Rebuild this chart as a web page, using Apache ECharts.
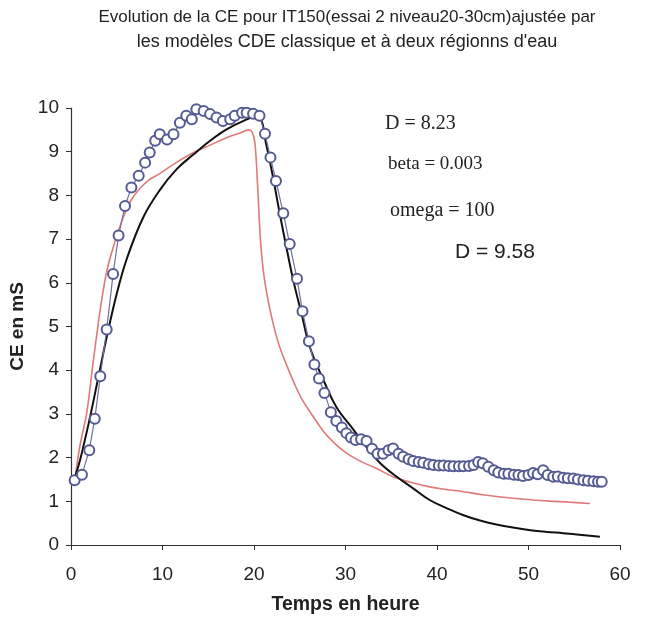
<!DOCTYPE html>
<html>
<head>
<meta charset="utf-8">
<script src="https://cdn.jsdelivr.net/npm/echarts@6/dist/echarts.min.js"></script>
<style>html,body{margin:0;padding:0;background:#fff}#c{width:647px;height:618px}</style>
</head>
<body>
<div id="c"></div>
<script>
// Observed data (markers)
var tObs = [0.4,1.2,2.0,2.6,3.2,3.9,4.6,5.2,5.9,6.6,7.4,8.1,8.6,9.2,9.7,10.5,11.2,11.9,12.6,13.2,13.7,14.5,15.2,15.9,16.6,17.4,17.9,18.7,19.2,19.9,20.6,21.2,21.8,22.4,23.2,23.9,24.7,25.3,26.0,26.6,27.1,27.7,28.4,29.0,29.6,30.1,30.6,31.1,31.7,32.3,32.9,33.5,34.1,34.7,35.2,35.8,36.3,36.9,37.4,38.0,38.5,39.1,39.6,40.2,40.7,41.3,41.8,42.4,42.9,43.5,44.0,44.5,45.0,45.6,46.2,46.7,47.3,47.8,48.4,48.9,49.4,50.0,50.5,51.0,51.6,52.1,52.7,53.2,53.8,54.3,54.9,55.4,56.0,56.5,57.1,57.6,58.0];
var ceObs = [1.48,1.61,2.17,2.89,3.86,4.93,6.2,7.08,7.76,8.18,8.45,8.75,8.98,9.25,9.40,9.28,9.40,9.66,9.82,9.74,9.97,9.93,9.86,9.78,9.70,9.74,9.82,9.89,9.89,9.87,9.82,9.41,8.87,8.33,7.59,6.89,6.09,5.35,4.66,4.13,3.81,3.48,3.04,2.84,2.69,2.56,2.46,2.40,2.42,2.38,2.20,2.09,2.09,2.17,2.21,2.09,2.02,1.96,1.92,1.90,1.88,1.85,1.83,1.82,1.82,1.81,1.80,1.80,1.80,1.81,1.83,1.90,1.87,1.79,1.71,1.66,1.63,1.63,1.61,1.60,1.58,1.60,1.65,1.62,1.71,1.60,1.56,1.57,1.54,1.53,1.52,1.50,1.48,1.47,1.46,1.45,1.45];

// Classic CDE fit (black)
var tCde = [0.5,1,2,3,4,5,6.1,7.9,9.7,11.55,13.4,15.2,17.0,18.8,20.0,20.7,21.3,22.0,22.8,23.6,24.3,25.2,26.1,27.6,29.0,30.9,32.3,33.8,35.6,37.5,39.2,41.1,42.9,44.7,46.5,48.3,50.2,52.0,53.8,55.8,57.8];
var ceCde = [1.6,1.95,2.85,3.85,4.85,5.75,6.55,7.5,8.12,8.6,8.94,9.25,9.51,9.7,9.78,9.75,9.2,8.5,7.6,6.75,6.05,5.29,4.53,3.77,3.16,2.63,2.24,1.87,1.56,1.28,1.03,0.84,0.68,0.56,0.47,0.40,0.34,0.30,0.27,0.23,0.19];

// Two-region model fit (red)
var tTwo = [0.5,1.0,1.7,2.4,3.0,3.5,4.0,4.6,5.2,5.9,6.6,7.5,8.5,9.7,11.5,13.4,15.2,17.0,18.5,19.4,19.8,20.1,20.4,20.7,21.0,21.4,22.0,22.7,23.5,24.3,25.2,26.5,27.6,28.7,30.0,31.5,33.4,35.2,37.0,39.2,41.0,42.9,45.0,48.3,52.0,54.5,56.7];
var ceTwo = [1.6,2.3,3.0,4.15,5.1,5.8,6.35,6.8,7.2,7.6,7.9,8.15,8.35,8.5,8.75,8.98,9.15,9.32,9.43,9.5,9.45,9.2,8.2,7.0,6.3,5.75,5.15,4.6,4.15,3.75,3.35,2.93,2.6,2.35,2.12,1.93,1.75,1.56,1.44,1.33,1.27,1.22,1.15,1.07,1.01,0.98,0.95];

var titleLines = ["Evolution de la CE pour IT150(essai 2 niveau20-30cm)ajustée par", "les modèles CDE classique et à deux régionns d'eau"];
var annotSerif = ["D = 8.23", "beta = 0.003", "omega = 100"];
var annotSans = "D = 9.58";

function pairs(xs, ys){ var o=[]; for(var i=0;i<Math.min(xs.length,ys.length);i++) o.push([xs[i],ys[i]]); return o; }

var chart = echarts.init(document.getElementById('c'), null, {renderer:'canvas'});
var SANS = '"Liberation Sans", Arial, sans-serif';
var SERIF = '"Liberation Serif", "Times New Roman", serif';
var axisTxt = {color:'#222', fontFamily:SANS, fontSize:19};
chart.setOption({
  animation:false,
  backgroundColor:'#fff',
  grid:{left:71, right:27, top:108, bottom:73, containLabel:false, outerBoundsMode:'none'},
  xAxis:{
    type:'value', min:0, max:60, interval:10,
    name:'Temps en heure', nameLocation:'middle', nameGap:50,
    nameTextStyle:{fontFamily:SANS, fontSize:19.5, fontWeight:'bold', color:'#222'},
    axisLine:{show:true, lineStyle:{color:'#333', width:1.2}},
    axisTick:{show:true, length:5, lineStyle:{color:'#333'}},
    axisLabel:Object.assign({margin:20}, axisTxt),
    splitLine:{show:false}
  },
  yAxis:{
    type:'value', min:0, max:10, interval:1,
    name:'CE en mS', nameLocation:'middle', nameGap:35,
    nameTextStyle:{fontFamily:SANS, fontSize:19, fontWeight:'bold', color:'#222'},
    axisLine:{show:true, lineStyle:{color:'#333', width:1.2}},
    axisTick:{show:true, length:5, lineStyle:{color:'#333'}},
    axisLabel:Object.assign({margin:12}, axisTxt),
    splitLine:{show:false}
  },
  graphic:[
    {type:'text', x:347, y:9, style:{text:titleLines[0], textAlign:'center', font:'17px ' + SANS, fill:'#222'}},
    {type:'text', x:347, y:33, style:{text:titleLines[1], textAlign:'center', font:'18px ' + SANS, fill:'#222'}},
    {type:'text', x:385, y:114, style:{text:annotSerif[0], font:'20px ' + SERIF, fill:'#222'}},
    {type:'text', x:388, y:155, style:{text:annotSerif[1], font:'19px ' + SERIF, fill:'#222'}},
    {type:'text', x:390, y:201, style:{text:annotSerif[2], font:'20px ' + SERIF, fill:'#222'}},
    {type:'text', x:455, y:242, style:{text:annotSans, font:'21px ' + SANS, fill:'#222'}}
  ],
  series:[
    {type:'line', name:'deux régions', data:pairs(tTwo, ceTwo), showSymbol:false, smooth:0.4,
     lineStyle:{color:'#e07a78', width:1.6}, z:2},
    {type:'line', name:'CDE classique', data:pairs(tCde, ceCde), showSymbol:false, smooth:0.4,
     lineStyle:{color:'#111', width:2}, z:3},
    {type:'line', name:'observé', data:pairs(tObs, ceObs), symbol:'circle', symbolSize:10,
     itemStyle:{color:'#fff', borderColor:'#545a92', borderWidth:2},
     lineStyle:{color:'#6d72a2', width:1.2}, z:4}
  ]
});
</script>
</body>
</html>
